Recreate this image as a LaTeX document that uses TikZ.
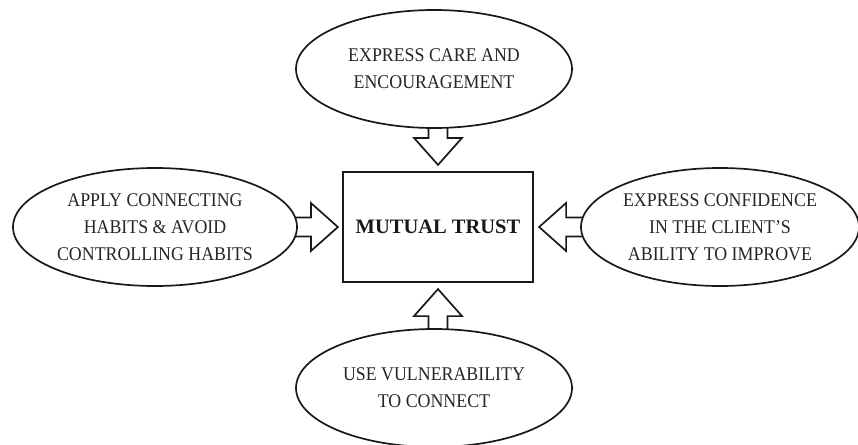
\documentclass[tikz,border=0pt]{standalone}
\usepackage{fontspec}
\setmainfont{Liberation Serif}[FakeStretch=0.92]
\newfontfamily\titlefont{Liberation Serif}
\usetikzlibrary{shapes.geometric,calc,backgrounds}

\tikzset{
  ink/.style={line width=1.7pt, draw=black!90},
  idea/.style={ink, shape=ellipse, fill=white, inner sep=0pt, align=center,
    text=black!85, font=\fontsize{19.4}{27}\selectfont},
  core/.style={draw=black!90, line width=2.2pt, fill=white, minimum width=190pt,
    minimum height=110pt, font=\titlefont\bfseries\fontsize{20.5}{24}\selectfont, text=black!90},
  fatline/.style={ink, fill=white, line join=miter},
}

% hollow block arrow from #1 (base, inside the ellipse) to #2 (tip)
\newcommand{\fatarrow}[2]{%
  \path (#1) coordinate (fa-s) (#2) coordinate (fa-t);
  \path ($(fa-t)!27pt!(fa-s)$) coordinate (fa-h);
  \draw[fatline]
    ($(fa-s)!9.5pt!90:(fa-t)$) --
    ($(fa-h)!9.5pt!-90:(fa-s)$) --
    ($(fa-h)!24pt!-90:(fa-s)$) --
    (fa-t) --
    ($(fa-h)!24pt!90:(fa-s)$) --
    ($(fa-h)!9.5pt!90:(fa-s)$) --
    ($(fa-s)!9.5pt!-90:(fa-t)$);
}

\begin{document}
\begin{tikzpicture}[x=1pt, y=-1pt]
  \useasboundingbox (0,0) rectangle (858,444);

  \node[core] (trust) at (438,227) {MUTUAL TRUST};

  \node[idea, minimum width=276pt, minimum height=118pt] (care) at (434,69)
    {EXPRESS CARE AND\\ENCOURAGEMENT};
  \node[idea, minimum width=276pt, minimum height=118pt] (vuln) at (434,388)
    {USE VULNERABILITY\\TO CONNECT};
  \node[idea, minimum width=284pt, minimum height=118pt] (habits) at (155,227)
    {APPLY CONNECTING\\HABITS \& AVOID\\CONTROLLING HABITS};
  \node[idea, minimum width=278pt, minimum height=118pt] (conf) at (720,227)
    {EXPRESS CONFIDENCE\\IN THE CLIENT’S\\ABILITY TO IMPROVE};

  \begin{scope}[on background layer]
    \fatarrow{$(care.south -| trust.north)+(0,-6)$}{$(trust.north)+(0,-6)$}
    \fatarrow{$(vuln.north -| trust.south)+(0,6)$}{$(trust.south)+(0,6)$}
    \fatarrow{$(habits.east)+(-6,0)$}{$(trust.west)+(-4,0)$}
    \fatarrow{$(conf.west)+(6,0)$}{$(trust.east)+(5,0)$}
  \end{scope}
\end{tikzpicture}
\end{document}
